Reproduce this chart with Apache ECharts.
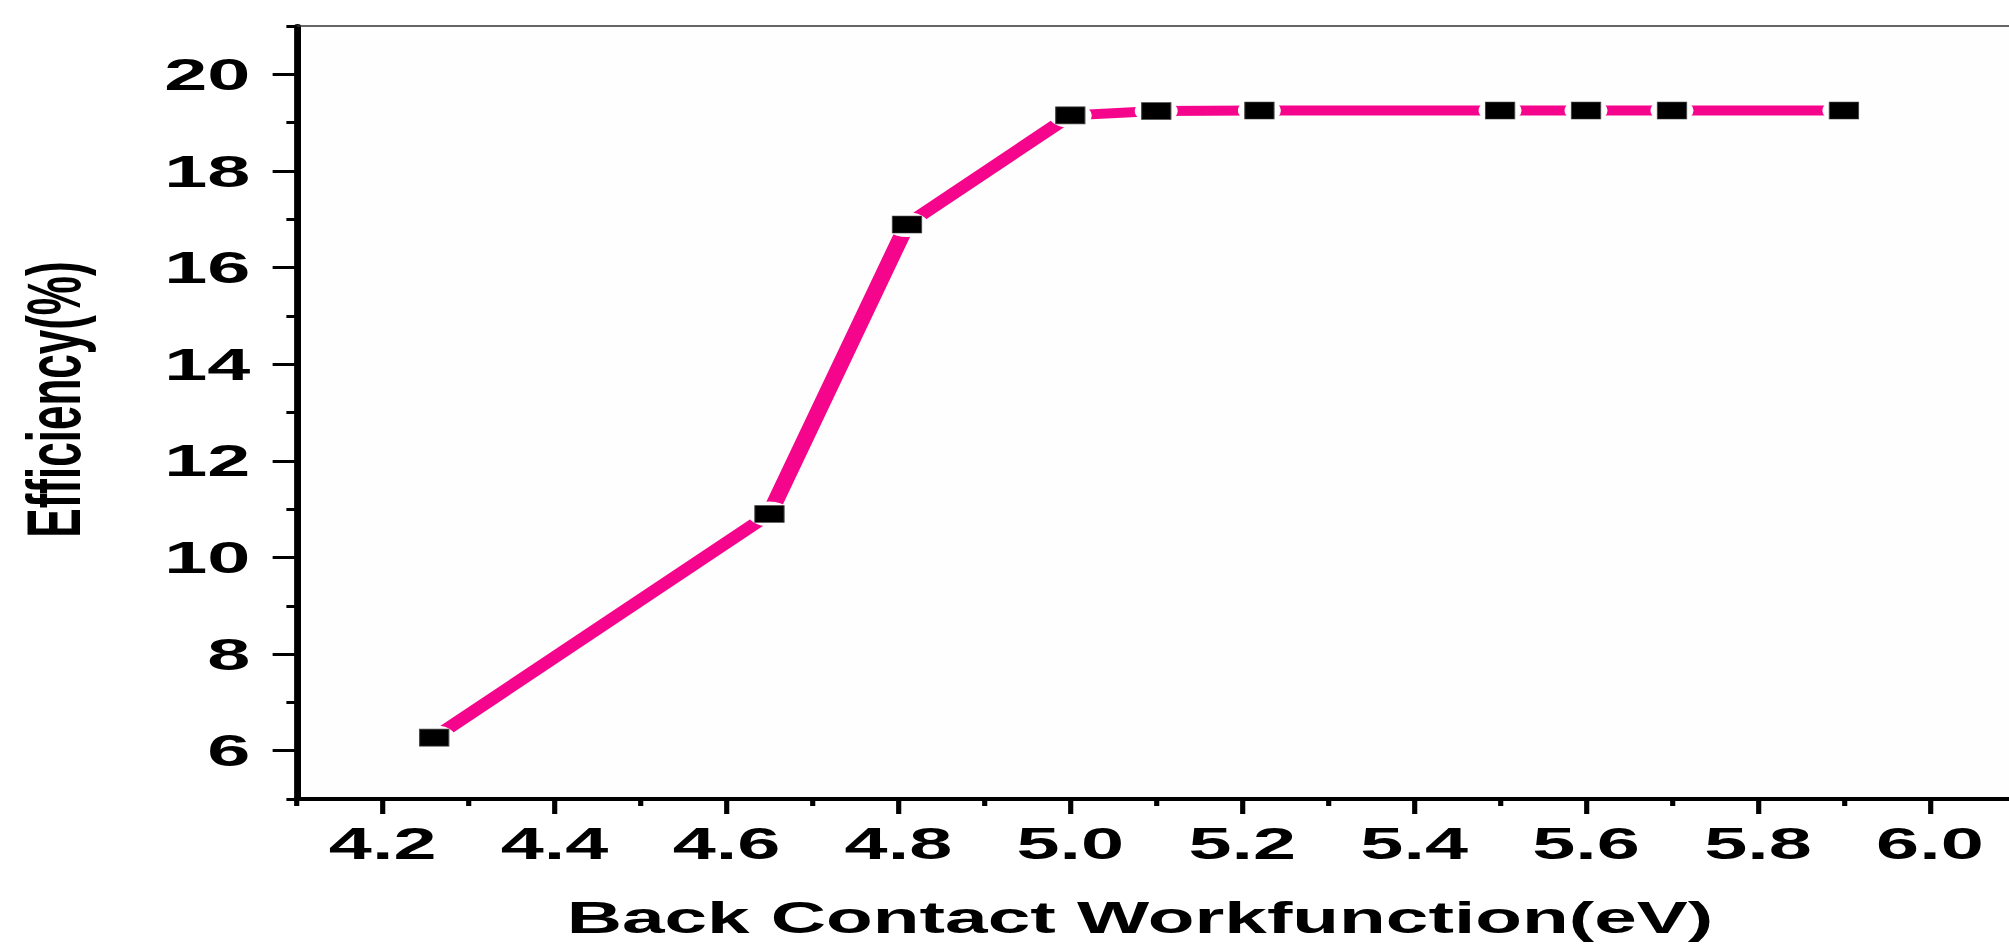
<!DOCTYPE html>
<html>
<head>
<meta charset="utf-8">
<title>Efficiency vs Back Contact Workfunction</title>
<script src="https://cdn.jsdelivr.net/npm/echarts@6/dist/echarts.min.js"></script>
<style>
  html, body { margin: 0; padding: 0; background: #ffffff; overflow: hidden; }
  /* the plot is laid out at its natural aspect and widened horizontally */
  #chart { width: 1168px; height: 944px; transform-origin: 0 0; transform: scaleX(1.72); }
</style>
</head>
<body>
<div id="chart"></div>
<script>
// Back contact workfunction (eV) and resulting cell efficiency (%)
const workfunction = [4.26, 4.65, 4.81, 5.0, 5.1, 5.22, 5.5, 5.6, 5.7, 5.9];
const efficiency   = [6.27, 10.9, 16.89, 19.15, 19.24, 19.25, 19.25, 19.25, 19.25, 19.25];

// Axis ticks
const xMajorTicks = [4.2, 4.4, 4.6, 4.8, 5.0, 5.2, 5.4, 5.6, 5.8, 6.0];
const xMinorTicks = [4.1, 4.3, 4.5, 4.7, 4.9, 5.1, 5.3, 5.5, 5.7, 5.9, 6.1];
const yMajorTicks = [6, 8, 10, 12, 14, 16, 18, 20];
const yMinorTicks = [5, 7, 9, 11, 13, 15, 17, 19, 21];

const X_MIN = 4.1, X_MAX = 6.1, Y_MIN = 5, Y_MAX = 21;
const FONT = "'Liberation Sans', Arial, Helvetica, sans-serif";
const PLOT_BG = '#fefefe';

const points = workfunction.map((x, i) => [x, efficiency[i]]);

const gridBox = { left: 172.5, right: -4, top: 26, bottom: 145, outerBoundsMode: 'none', containLabel: false };

const chart = echarts.init(document.getElementById('chart'), null, { renderer: 'svg' });

chart.setOption({
  animation: false,
  backgroundColor: '#ffffff',
  grid: [
    Object.assign({ show: true, backgroundColor: PLOT_BG, borderWidth: 0 }, gridBox),
    Object.assign({ show: false }, gridBox)
  ],
  xAxis: [
    {
      gridIndex: 0, type: 'value', position: 'bottom', min: X_MIN, max: X_MAX,
      axisLine: { show: true, onZero: false, lineStyle: { color: '#000', width: 4 } },
      axisTick: { show: true, customValues: xMajorTicks, length: 15, lineStyle: { color: '#000', width: 3 } },
      axisLabel: {
        customValues: xMajorTicks, formatter: v => Number(v).toFixed(1),
        margin: 22, color: '#000', fontSize: 45, fontWeight: 'bold', fontFamily: FONT
      },
      splitLine: { show: false },
      name: 'Back Contact Workfunction(eV)', nameLocation: 'middle', nameGap: 96,
      nameTextStyle: { color: '#000', fontSize: 44.5, fontWeight: 'bold', fontFamily: FONT, padding: [0, 19, 0, 0] }
    },
    {
      gridIndex: 0, type: 'value', position: 'top', min: X_MIN, max: X_MAX,
      axisLine: { show: true, onZero: false, lineStyle: { color: '#333', width: 1.5 } },
      axisTick: { show: false }, axisLabel: { show: false }, splitLine: { show: false }
    },
    {
      gridIndex: 1, type: 'value', position: 'bottom', min: X_MIN, max: X_MAX,
      axisLine: { show: false, onZero: false },
      axisTick: { show: true, customValues: xMinorTicks, length: 7, lineStyle: { color: '#000', width: 3 } },
      axisLabel: { show: false, customValues: xMinorTicks }, splitLine: { show: false }
    }
  ],
  yAxis: [
    {
      gridIndex: 0, type: 'value', position: 'left', min: Y_MIN, max: Y_MAX,
      axisLine: { show: true, onZero: false, lineStyle: { color: '#000', width: 4 } },
      axisTick: { show: true, customValues: yMajorTicks, length: 14, lineStyle: { color: '#000', width: 3 } },
      axisLabel: {
        customValues: yMajorTicks, margin: 27, color: '#000',
        fontSize: 45, fontWeight: 'bold', fontFamily: FONT
      },
      splitLine: { show: false },
      name: 'Efficiency(%)', nameLocation: 'middle', nameGap: 119,
      nameTextStyle: { color: '#000', fontSize: 44, fontWeight: 'bold', fontFamily: FONT, padding: [0, 0, 0, 26] }
    },
    {
      gridIndex: 1, type: 'value', position: 'left', min: Y_MIN, max: Y_MAX,
      axisLine: { show: false, onZero: false },
      axisTick: { show: true, customValues: yMinorTicks, length: 6, lineStyle: { color: '#000', width: 3 } },
      axisLabel: { show: false, customValues: yMinorTicks }, splitLine: { show: false }
    }
  ],
  series: [
    {
      name: 'Efficiency', type: 'line', xAxisIndex: 0, yAxisIndex: 0, data: points,
      showSymbol: false, z: 2,
      lineStyle: { color: '#f5058c', width: 10, cap: 'round', join: 'round' }
    },
    {
      // clearance around each symbol so the line stops short of it
      name: 'gap', type: 'scatter', xAxisIndex: 0, yAxisIndex: 0, data: points,
      symbol: 'circle', symbolSize: 25, silent: true, z: 3,
      itemStyle: { color: PLOT_BG, opacity: 1 }
    },
    {
      name: 'points', type: 'scatter', xAxisIndex: 0, yAxisIndex: 0, data: points,
      symbol: 'rect', symbolSize: 17, z: 4,
      itemStyle: { color: '#000', borderColor: '#444', borderWidth: 0.6, opacity: 1 }
    }
  ]
});
</script>
</body>
</html>
